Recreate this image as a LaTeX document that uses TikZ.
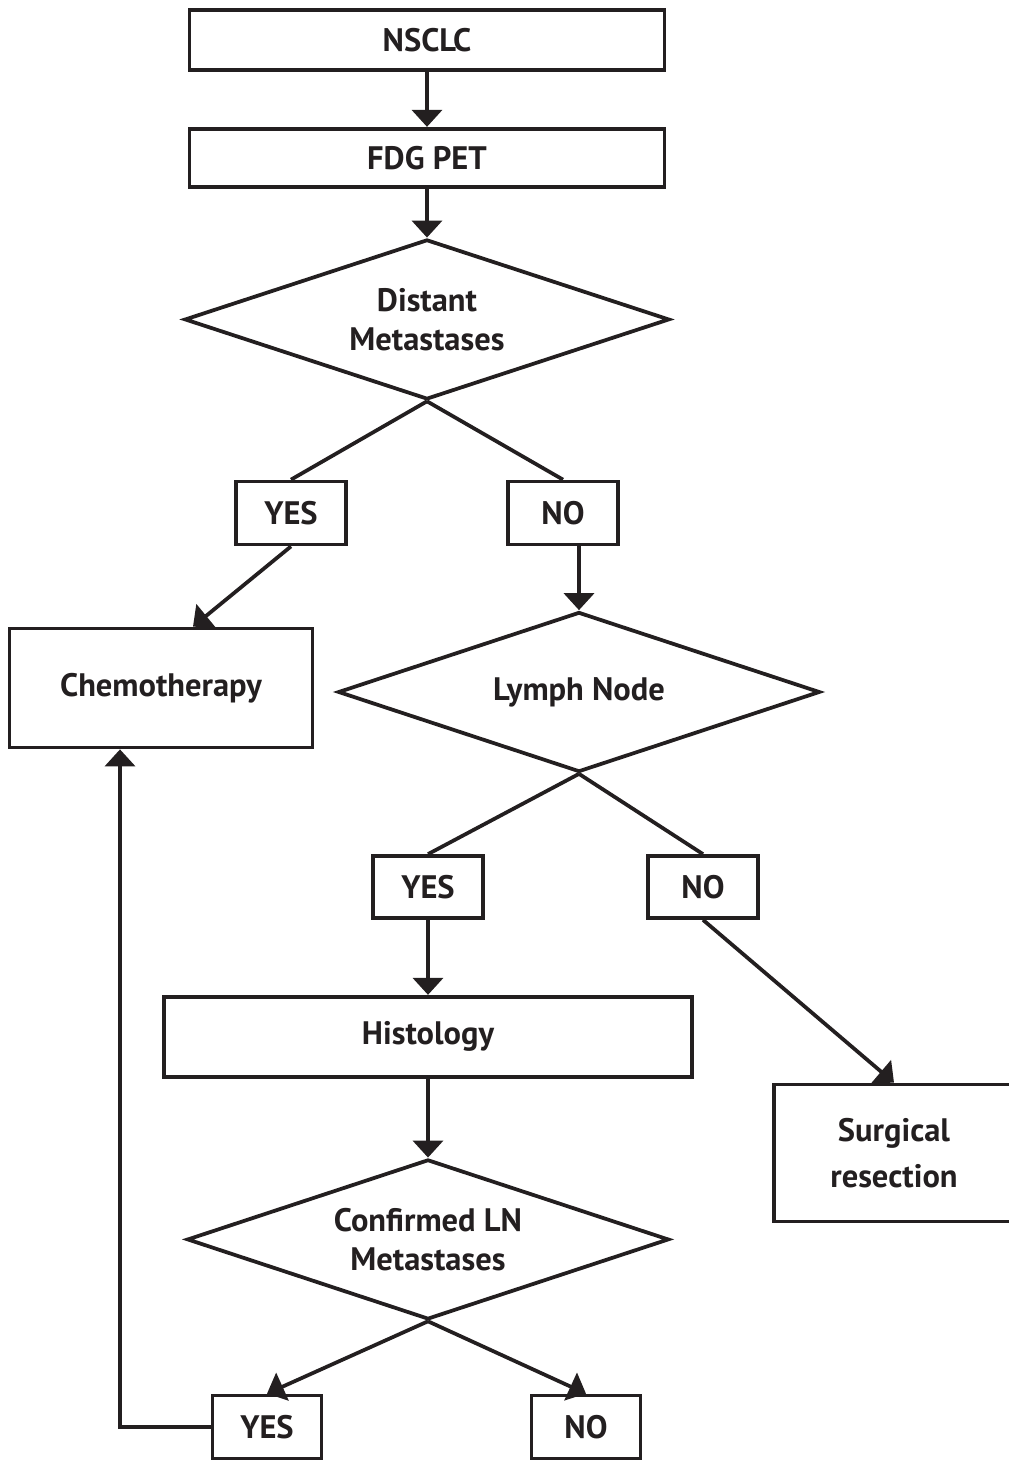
\documentclass[tikz,border=0pt]{standalone}
\usepackage{fontspec}
\setmainfont{PT Sans}
\usetikzlibrary{positioning,arrows.meta,shapes.geometric}
\definecolor{InkBlack}{HTML}{231F20}

\begin{document}
\begin{tikzpicture}[x=0.02cm,y=-0.02cm,>={Triangle[width=0.6cm,length=0.34cm]},
    font=\fontsize{18.5}{22}\selectfont\bfseries,line width=0.075cm,draw=InkBlack,text=InkBlack]
      \tikzstyle{box}=[draw=InkBlack,align=center,inner sep=0pt]
      \tikzstyle{choice}=[box,diamond,aspect=3,inner sep=0pt]
      \tikzstyle{answer}=[box,minimum width=2.2cm,minimum height=1.26cm]
      \useasboundingbox (0,0) rectangle (1008,1461);
      \node[box,minimum width=9.5cm,minimum height=1.2cm] (nsclc) at (427,40) {NSCLC};
      \node[box,minimum width=9.5cm,minimum height=1.16cm,below=1.1cm of nsclc] (pet) {FDG PET};
      \node[choice,minimum width=9.7cm,minimum height=3.2cm,below=0.98cm of pet] (dm) {Distant\\Metastases};
      \node[answer] (yesdm) at (291,513) {YES};
      \node[answer] (nodm) at (563,513) {NO};
      \node[box,minimum width=6.06cm,minimum height=2.38cm] (chemo) at (161,688) {Chemotherapy};
      \node[choice,minimum width=9.64cm,minimum height=3.2cm] (lymph) at (579,692) {Lymph Node};
      \node[answer,minimum height=1.24cm] (yesln) at (428,887) {YES};
      \node[answer,minimum height=1.24cm] (noln) at (703,887) {NO};
      \node[box,minimum width=10.56cm,minimum height=1.6cm,below=1.5cm of yesln] (histo) {Histology};
      \node[box,minimum width=4.8cm,minimum height=2.74cm] (surg) at (894,1153) {Surgical\\[4pt]resection};
      \node[choice,minimum width=9.64cm,minimum height=3.2cm,below=1.58cm of histo] (conf) {Confirmed LN\\Metastases};
      \node[answer,minimum width=2.18cm] (yesconf) at (267,1427) {YES};
      \node[answer,minimum width=2.18cm] (noconf) at (586,1427) {NO};
      \draw[->] (nsclc) -- (pet);
      \draw[->] (pet) -- (dm);
      \draw (dm.south) -- (yesdm.north);
      \draw (dm.south) -- (nodm.north);
      \draw[->] (yesdm.south) -- ([xshift=0.64cm]chemo.north);
      \draw[->] (nodm.south -| lymph.north) -- (lymph.north);
      \draw (lymph.south) -- (yesln.north);
      \draw (lymph.south) -- (noln.north);
      \draw[->] (yesln) -- (histo);
      \draw[->] (noln.south) -- (surg.north);
      \draw[->] (histo) -- (conf);
      \draw[->] (conf.south) -- (yesconf.north);
      \draw[->] (conf.south) -- (noconf.north);
      \draw[->] (yesconf.west) -| ([xshift=-0.82cm]chemo.south);
    \end{tikzpicture}
\end{document}
